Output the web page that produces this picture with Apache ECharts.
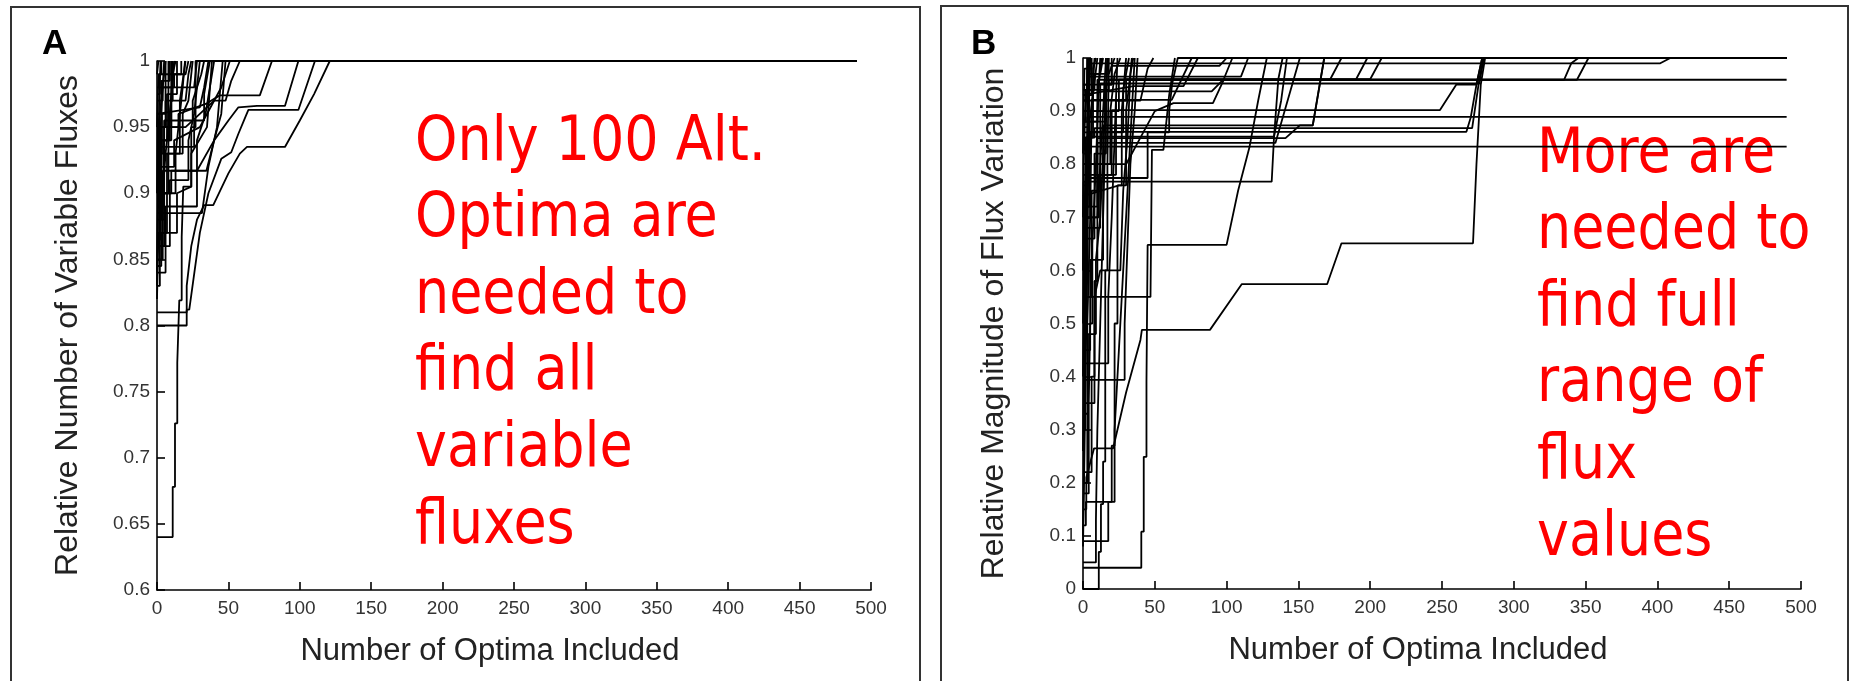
<!DOCTYPE html>
<html>
<head>
<meta charset="utf-8">
<script src="https://cdn.jsdelivr.net/npm/echarts@6/dist/echarts.min.js"></script>
<style>
html,body{margin:0;padding:0;background:#fff;}
#chart{width:1852px;height:681px;}
</style>
</head>
<body>
<div id="chart"></div>
<script>
// ---- Axis tick definitions ----
const xTicks = [0, 50, 100, 150, 200, 250, 300, 350, 400, 450, 500];
const yTicksA = [0.6, 0.65, 0.7, 0.75, 0.8, 0.85, 0.9, 0.95, 1];
const yTicksB = [0, 0.1, 0.2, 0.3, 0.4, 0.5, 0.6, 0.7, 0.8, 0.9, 1];

// ---- Texts ----
const titleA = 'Relative Number of Variable Fluxes';
const titleB = 'Relative Magnitude of Flux Variation';
const xTitle = 'Number of Optima Included';
const noteA = ['Only 100 Alt.', 'Optima are', 'needed to', 'find all', 'variable', 'fluxes'];
const noteB = ['More are', 'needed to', 'find full', 'range of', 'flux', 'values'];

// ---- Panel A: curves reaching 1 late (x, relative number) ----
const curvesA_long = [
  [[0,0.81],[20.8,0.81],[20.8,0.83],[24,0.86],[28,0.88],[33,0.891],[39.4,0.891],[50,0.915],[58,0.93],[63,0.935],[89.6,0.935],[100,0.955],[110,0.975],[121,1],[490,1]],
  [[0,0.80],[20.8,0.80],[20.8,0.812],[22.6,0.812],[30,0.87],[36,0.9],[45,0.926],[52,0.931],[57,0.945],[62,0.958],[64,0.963],[99,0.963],[110.6,1],[490,1]],
  [[0,0.86],[5,0.86],[5,0.9],[10,0.9],[10,0.917],[28,0.917],[40,0.94],[50,0.955],[57,0.965],[70,0.966],[89.6,0.966],[99,1],[490,1]],
  [[0,0.88],[3,0.88],[3,0.95],[15,0.95],[15,0.96],[35,0.968],[44,0.974],[72,0.974],[80.5,1],[490,1]],
  [[0,0.9],[8,0.9],[8,0.95],[20,0.95],[30,0.96],[40,0.97],[48,0.97],[52,0.985],[58,1],[490,1]],
  [[0,0.89],[2,0.89],[2,0.92],[12,0.92],[12,0.94],[30,0.95],[38,0.966],[45,0.98],[51,1],[490,1]],
  [[0,0.84],[6,0.84],[6,0.89],[28,0.89],[28,0.94],[34,0.96],[40,1],[490,1]],
  [[0,0.64],[11,0.64],[11,0.678],[12.6,0.678],[12.6,0.726],[14.2,0.726],[14.2,0.772],[15.6,0.772],[15.6,0.819],[17.3,0.819],[17.3,0.867],[18.4,0.867],[18.4,0.905],[24,0.905],[24,0.95],[27,0.95],[27,1],[490,1]]
];
// ---- Panel A: curves reaching 1 early ----
const curvesA_short = [
  [[0,0.83],[2,0.83],[2,0.88],[5,0.88],[5,0.95],[8,0.95],[8,1]],
  [[0,0.85],[4,0.85],[4,0.9],[6,0.93],[10,0.97],[12,1]],
  [[0,0.87],[1.5,0.87],[1.5,0.92],[3,0.96],[5,1]],
  [[0,0.92],[2,0.92],[2,0.96],[4,0.98],[6,1]],
  [[0,0.94],[7,0.94],[7,0.975],[14,0.975],[14,1]],
  [[0,0.96],[3,0.96],[3,0.985],[9,0.985],[9,1]],
  [[0,0.9],[13,0.9],[13,0.93],[16,0.96],[18,0.98],[19.6,1]],
  [[0,0.93],[18,0.93],[18,0.96],[22,0.97],[25,1]],
  [[0,0.95],[10,0.95],[10,0.97],[20,0.97],[22,0.99],[24,1]],
  [[0,0.97],[4,0.97],[4,0.98],[26,0.98],[28,1]],
  [[0,0.86],[9,0.86],[9,0.91],[22,0.91],[22,0.94],[26,0.96],[30,1]],
  [[0,0.82],[1,0.82],[1,0.87],[14,0.87],[14,0.9],[24,0.905],[24,0.93],[35,0.95],[38.5,1]],
  [[0,0.91],[5,0.91],[5,0.955],[25,0.955],[25,0.97],[31,0.99],[33,1]],
  [[0,0.89],[4,0.89],[4,0.917],[34.6,0.917],[40,0.94],[45,0.96],[48,1]],
  [[0,0.95],[1,0.95],[1,0.99],[3,0.99],[3,1]],
  [[0,0.98],[12,0.98],[12,0.99],[17,0.99],[17,1]],
  [[0,0.96],[30,0.965],[33,0.98],[36,1]],
  [[0,0.885],[31.5,0.885],[36,0.92],[42,0.95],[46,1]],
  [[0,0.845],[3,0.845],[3,0.87],[7,0.87],[7,0.93],[16,0.93],[16,0.97],[20,1]],
  [[0,0.935],[26,0.935],[26,0.955],[33,0.955],[33,0.975],[37,1]],
  [[0,0.975],[2,0.975],[2,0.99],[20,0.99],[22,1]],
  [[0,0.99],[1,0.99],[1,1]],
  [[0,0.865],[2.5,0.865],[2.5,0.94],[9,0.94],[9,0.96],[11,0.99],[13,1]],
  [[0,0.83],[0.7,0.83],[0.7,0.9],[1.5,0.9],[1.5,0.97],[2.5,0.97],[2.5,1]],
  [[0,0.84],[1.2,0.84],[1.2,0.93],[3.5,0.93],[3.5,0.96],[6,0.96],[6,1]],
  [[0,0.87],[2.7,0.87],[2.7,0.9],[4.5,0.9],[4.5,0.94],[10,0.94],[10,1]],
  [[0,0.9],[0.5,0.9],[0.5,0.95],[6,0.95],[6,0.97],[11,0.97],[11,1]]
];

// ---- Panel B: long curves (x, relative magnitude) ----
const curvesB_long = [
  [[0,0.04],[40.6,0.04],[40.6,0.108],[42.3,0.108],[42.3,0.249],[44.2,0.249],[44.2,0.39],[45,0.39],[45,0.648],[100,0.648],[108,0.75],[116,0.833],[122,0.92],[128,1],[490,1]],
  [[0,0.15],[2.3,0.15],[2.3,0.21],[7.7,0.265],[21,0.265],[30,0.37],[40,0.469],[41,0.488],[88.4,0.488],[110.5,0.574],[170,0.574],[180,0.651],[271.6,0.651],[274,0.8],[277,0.95],[280,1],[490,1]],
  [[0,0.7],[0.5,0.767],[131.4,0.767],[133,0.85],[136,0.96],[139,1],[490,1]],
  [[0,0.5],[1,0.5],[1,0.7],[2,0.7],[2,0.833],[490,0.833]],
  [[0,0.6],[3,0.6],[3,0.889],[490,0.889]],
  [[0,0.7],[5,0.7],[5,0.8],[30,0.8],[40,0.85],[50,0.9],[63,0.915],[90.5,0.915],[98,0.959],[490,0.959]],
  [[0,0.93],[6,0.93],[6,0.99],[402,0.99],[409,1],[490,1]],
  [[0,0.88],[10,0.88],[10,0.959],[335,0.959],[340,0.99],[345,1],[490,1]],
  [[0,0.9],[15,0.9],[15,0.959],[344,0.959],[352,1],[490,1]],
  [[0,0.8],[12,0.8],[12,0.952],[276,0.952],[279,1],[490,1]],
  [[0,0.86],[20,0.86],[20,0.902],[248.6,0.902],[260,0.95],[274,0.95],[278,1],[490,1]],
  [[0,0.82],[5,0.82],[5,0.861],[267,0.861],[270,0.888],[274,0.95],[278,1],[490,1]],
  [[0,0.85],[8,0.85],[8,0.868],[271,0.868],[276,0.96],[279,1],[490,1]],
  [[0,0.9],[25,0.9],[25,0.959],[190,0.959],[198,1],[490,1]],
  [[0,0.92],[30,0.92],[30,0.96],[200,0.96],[208,1],[490,1]],
  [[0,0.94],[18,0.94],[18,0.959],[172,0.959],[180,1],[490,1]],
  [[0,0.78],[14,0.78],[14,0.873],[160,0.873],[168,1],[490,1]],
  [[0,0.7],[10,0.7],[10,0.849],[141,0.849],[151,0.873],[160,0.873],[168,1],[490,1]],
  [[0,0.72],[10,0.72],[10,0.84],[134,0.84],[151,1],[490,1]],
  [[0,0.92],[4,0.92],[4,0.965],[110,0.965],[115,1],[490,1]],
  [[0,0.85],[6,0.85],[6,0.921],[61.8,0.921],[75.7,1],[490,1]],
  [[0,0.88],[16,0.88],[16,0.937],[89.6,0.937],[98,0.96],[104,1],[490,1]],
  [[0,0.93],[35,0.947],[70,0.947],[80,1],[490,1]],
  [[0,0.76],[2,0.76],[2,0.774],[45,0.774],[45,0.86],[60,0.86],[60,0.9],[62,0.95],[66,1],[490,1]],
  [[0,0.8],[3,0.8],[3,0.852],[133,0.852],[138,0.92],[142,1],[490,1]],
  [[0,0.95],[20,0.95],[20,0.985],[95,0.985],[100,1],[490,1]]
];
// ---- Panel B: short curves ----
const curvesB_short = [
  [[0,0],[11,0],[11,0.07],[12.5,0.07],[12.5,0.16],[14,0.16],[14,0.24],[15.5,0.24],[15.5,0.6],[17,0.6],[17,0.8],[18,0.8],[18,1]],
  [[0,0.09],[17.6,0.09],[17.6,0.164],[20,0.164],[20,0.27],[22,0.27],[22,0.5],[24,0.5],[24,0.76],[27,0.76],[27,0.9],[30,1]],
  [[0,0.12],[2,0.12],[2,0.164],[22,0.164],[22,0.3],[25,0.45],[28,0.6],[32,0.8],[36,1]],
  [[0,0.394],[29,0.394],[29,0.5],[31,0.65],[33,0.8],[36,0.9],[38,1]],
  [[0,0.425],[17.6,0.425],[17.6,0.55],[20,0.7],[22,0.85],[24,1]],
  [[0,0.2],[3,0.2],[3,0.5],[5,0.7],[6,0.9],[8,1]],
  [[0,0.3],[1.5,0.3],[1.5,0.6],[3,0.8],[4,1]],
  [[0,0.55],[6,0.55],[6,0.75],[10,0.75],[10,0.9],[12,1]],
  [[0,0.62],[2,0.62],[2,0.85],[7,0.85],[7,0.98],[9,1]],
  [[0,0.74],[25,0.76],[30,0.76],[30,0.9],[33,0.97],[35,1]],
  [[0,0.66],[8,0.66],[8,0.82],[16,0.82],[16,0.95],[20,0.95],[20,1]],
  [[0,0.87],[4,0.87],[4,0.97],[12,0.97],[14,1]],
  [[0,0.95],[3,0.95],[3,1]],
  [[0,0.82],[1,0.82],[1,0.98],[6,0.98],[6,1]],
  [[0,0.45],[5,0.45],[5,0.62],[14,0.62],[14,0.78],[23,0.78],[23,0.92],[40,0.92],[45,0.98],[49,1]],
  [[0,0.35],[8,0.35],[8,0.55],[12,0.6],[26,0.6],[28,0.75],[31,0.85],[33,0.97],[34,1]],
  [[0,0.5],[2,0.5],[2,0.55],[47,0.55],[48,0.827],[56,0.827],[60,0.93],[64,1]],
  [[0,0.08],[1,0.08],[1,0.25],[2,0.25],[2,0.45],[3,0.6],[4,0.9],[5,1]],
  [[0,0.26],[0.5,0.26],[0.5,0.4],[1.5,0.55],[2.5,0.75],[3.5,0.95],[4,1]],
  [[0,0.1],[0.8,0.1],[0.8,0.3],[1.8,0.3],[1.8,0.5],[2.8,0.5],[2.8,0.7],[4,0.7],[4,0.9],[5,1]],
  [[0,0.18],[4,0.18],[4,0.35],[5,0.35],[5,0.5],[6.5,0.5],[6.5,0.65],[9,0.8],[11,0.95],[13,1]],
  [[0,0.22],[6,0.22],[6,0.4],[8,0.4],[8,0.58],[10,0.58],[10,0.7],[13,0.85],[16,1]],
  [[0,0.33],[3.5,0.33],[3.5,0.48],[9,0.48],[9,0.62],[12,0.7],[15,0.88],[17,1]],
  [[0,0.4],[1,0.4],[1,0.6],[2,0.6],[2,0.72],[4.5,0.72],[4.5,0.88],[7,0.93],[10,1]],
  [[0,0.58],[3,0.58],[3,0.68],[12,0.68],[12,0.8],[19,0.8],[19,0.9],[22,0.97],[26,1]],
  [[0,0.05],[9,0.05],[9,0.13],[10,0.13],[10,0.3],[11.5,0.45],[13,0.6],[14.5,0.75],[16,0.9],[17,1]],
  [[0,0.7],[11,0.7],[11,0.78],[20,0.78],[20,0.86],[28,0.86],[28,0.94],[32,1]],
  [[0,0.88],[2,0.88],[2,0.94],[8,0.94],[8,0.97],[18,0.97],[22,1]],
  [[0,0.6],[0.5,0.6],[0.5,0.8],[1.5,0.8],[1.5,0.9],[2.5,0.93],[3,1]]
];

// ---------------- build chart ----------------
const chart = echarts.init(document.getElementById('chart'), null, {renderer: 'canvas'});
const FONT = 'Liberation Sans';

function makeX(gi) {
  return {
    gridIndex: gi, type: 'value', min: xTicks[0], max: xTicks[xTicks.length - 1],
    interval: xTicks[1] - xTicks[0],
    axisLine: {show: true, lineStyle: {color: '#000', width: 1.6}},
    axisTick: {show: true, inside: true, length: 8, lineStyle: {color: '#000', width: 1.6}},
    axisLabel: {fontSize: 19, color: '#333', margin: 9, fontFamily: FONT},
    splitLine: {show: false},
    name: xTitle, nameLocation: 'middle', nameGap: 46,
    nameTextStyle: {fontSize: 31, color: '#222', fontFamily: FONT, padding: [0, 48, 0, 0]}
  };
}
function makeY(gi, ticks, title) {
  return {
    gridIndex: gi, type: 'value', min: ticks[0], max: ticks[ticks.length - 1],
    interval: +(ticks[1] - ticks[0]).toFixed(4),
    axisLine: {show: true, lineStyle: {color: '#000', width: 1.6}},
    axisTick: {show: true, inside: true, length: 8, lineStyle: {color: '#000', width: 1.6}},
    axisLabel: {fontSize: 19, color: '#333', margin: 7, fontFamily: FONT},
    splitLine: {show: false},
    name: title, nameLocation: 'middle', nameGap: 73,
    nameTextStyle: {fontSize: 32, color: '#222', fontFamily: FONT}
  };
}
function toSeries(curves, gi) {
  return curves.map(c => ({
    type: 'line', xAxisIndex: gi, yAxisIndex: gi, data: c,
    symbol: 'none', silent: true, clip: true,
    lineStyle: {color: '#000', width: 1.8}
  }));
}
function noteTexts(lines, x, y0, dy) {
  return lines.map((t, i) => ({
    type: 'text', x: x, y: y0 + i * dy, scaleX: 0.87, silent: true,
    style: {text: t, font: '62px "DejaVu Sans"', fill: '#ff0000',
            textAlign: 'left', align: 'left', textVerticalAlign: 'middle', verticalAlign: 'middle'}
  }));
}

const option = {
  animation: false,
  backgroundColor: '#fff',
  grid: [
    {left: 157, top: 61, width: 714, height: 529},
    {left: 1083, top: 58, width: 718, height: 531}
  ],
  xAxis: [makeX(0), makeX(1)],
  yAxis: [makeY(0, yTicksA, titleA), makeY(1, yTicksB, titleB)],
  series: [].concat(
    toSeries(curvesA_long, 0), toSeries(curvesA_short, 0),
    toSeries(curvesB_long, 1), toSeries(curvesB_short, 1)
  ),
  graphic: [
    {type: 'rect', silent: true, shape: {x: 11, y: 7, width: 909, height: 720},
     style: {fill: 'transparent', stroke: '#333', lineWidth: 2}},
    {type: 'rect', silent: true, shape: {x: 941, y: 6, width: 907, height: 720},
     style: {fill: 'transparent', stroke: '#333', lineWidth: 2}},
    {type: 'text', x: 42, y: 44, silent: true,
     style: {text: 'A', font: 'bold 35px "Liberation Sans"', fill: '#000', textVerticalAlign: 'middle', verticalAlign: 'middle'}},
    {type: 'text', x: 971, y: 44, silent: true,
     style: {text: 'B', font: 'bold 35px "Liberation Sans"', fill: '#000', textVerticalAlign: 'middle', verticalAlign: 'middle'}}
  ].concat(noteTexts(noteA, 415, 143.5, 76.6), noteTexts(noteB, 1537, 155.5, 76.6))
};
chart.setOption(option);
</script>
</body>
</html>
